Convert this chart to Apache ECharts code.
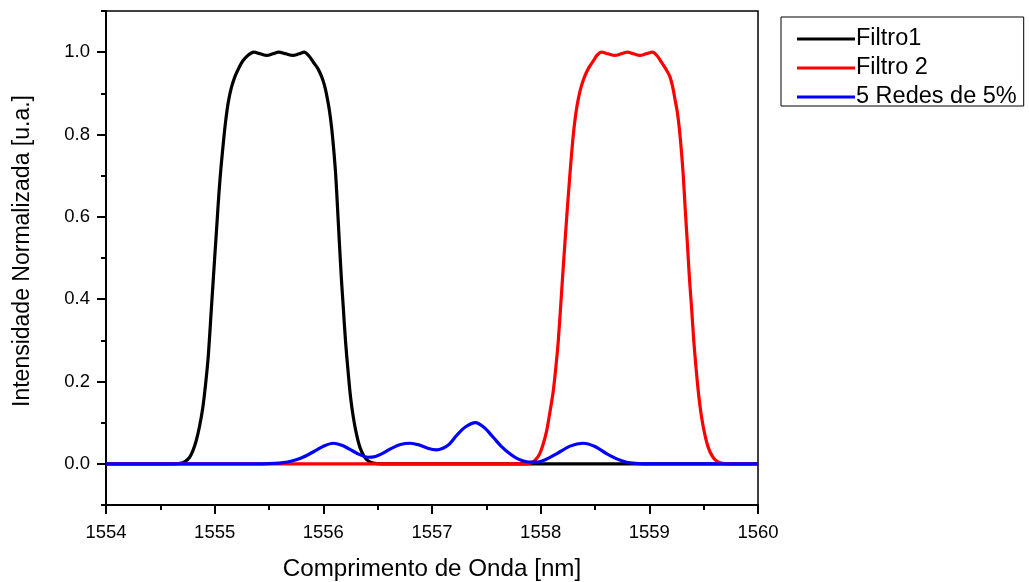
<!DOCTYPE html>
<html>
<head>
<meta charset="utf-8">
<script src="https://cdn.jsdelivr.net/npm/echarts@6/dist/echarts.min.js"></script>
<style>
  html, body { margin: 0; padding: 0; background: #fff; }
  #chart { width: 1029px; height: 582px; }
</style>
</head>
<body>
<div id="chart"></div>
<script>
// Wavelength [nm] / normalised intensity pairs for each trace
const filtro1 = [
  [1554.0, 0], [1554.6, 0], [1554.68, 0.001], [1554.73, 0.006], [1554.77, 0.016],
  [1554.80, 0.032], [1554.83, 0.056], [1554.86, 0.09], [1554.89, 0.135], [1554.915, 0.19],
  [1554.94, 0.258], [1554.97, 0.378], [1555.0, 0.5], [1555.02, 0.58], [1555.04, 0.66],
  [1555.06, 0.725], [1555.08, 0.78], [1555.10, 0.83], [1555.125, 0.878], [1555.155, 0.915],
  [1555.19, 0.943], [1555.225, 0.963], [1555.26, 0.979], [1555.31, 0.993], [1555.36, 1.0],
  [1555.42, 0.996], [1555.48, 0.992], [1555.535, 0.996], [1555.59, 1.0], [1555.655, 0.996],
  [1555.72, 0.992], [1555.775, 0.996], [1555.825, 1.0], [1555.87, 0.99], [1555.91, 0.975],
  [1555.95, 0.96], [1555.985, 0.94], [1556.01, 0.92], [1556.03, 0.897], [1556.055, 0.86],
  [1556.077, 0.815], [1556.095, 0.765], [1556.114, 0.701], [1556.13, 0.625], [1556.147, 0.54],
  [1556.165, 0.455], [1556.184, 0.378], [1556.205, 0.295], [1556.23, 0.218], [1556.25, 0.163],
  [1556.276, 0.113], [1556.305, 0.072], [1556.337, 0.04], [1556.375, 0.018], [1556.414, 0.007],
  [1556.46, 0.002], [1556.52, 0], [1560.0, 0]
];
const filtro2 = [
  [1554.0, 0], [1557.85, 0], [1557.91, 0.002], [1557.95, 0.009], [1557.99, 0.024],
  [1558.02, 0.045], [1558.055, 0.08], [1558.085, 0.125], [1558.116, 0.177], [1558.14, 0.235],
  [1558.162, 0.298], [1558.193, 0.419], [1558.224, 0.54], [1558.244, 0.615], [1558.264, 0.685],
  [1558.282, 0.745], [1558.3, 0.798], [1558.322, 0.848], [1558.346, 0.886], [1558.375, 0.918],
  [1558.408, 0.943], [1558.445, 0.963], [1558.485, 0.979], [1558.52, 0.993], [1558.561, 1.0],
  [1558.62, 0.996], [1558.684, 0.992], [1558.74, 0.996], [1558.797, 1.0], [1558.855, 0.996],
  [1558.914, 0.992], [1558.97, 0.996], [1559.031, 1.0], [1559.075, 0.99], [1559.113, 0.975],
  [1559.15, 0.96], [1559.19, 0.94], [1559.215, 0.915], [1559.236, 0.886], [1559.257, 0.855],
  [1559.276, 0.815], [1559.295, 0.76], [1559.312, 0.701], [1559.33, 0.62], [1559.349, 0.54],
  [1559.368, 0.455], [1559.389, 0.378], [1559.41, 0.295], [1559.435, 0.218], [1559.456, 0.163],
  [1559.481, 0.113], [1559.51, 0.072], [1559.542, 0.04], [1559.58, 0.018], [1559.619, 0.007],
  [1559.66, 0.002], [1559.72, 0], [1560.0, 0]
];
const redes = [
  [1554.0, 0], [1555.45, 0], [1555.55, 0.001], [1555.63, 0.003], [1555.71, 0.007],
  [1555.785, 0.013], [1555.86, 0.022], [1555.94, 0.034], [1556.01, 0.044], [1556.09, 0.05],
  [1556.17, 0.045], [1556.245, 0.035], [1556.33, 0.023], [1556.41, 0.016], [1556.48, 0.018],
  [1556.55, 0.026], [1556.63, 0.038], [1556.71, 0.047], [1556.8, 0.05], [1556.88, 0.046],
  [1556.96, 0.038], [1557.04, 0.034], [1557.1, 0.038], [1557.16, 0.048], [1557.23, 0.07],
  [1557.31, 0.09], [1557.4, 0.1], [1557.48, 0.088], [1557.565, 0.064], [1557.64, 0.042],
  [1557.72, 0.024], [1557.79, 0.012], [1557.87, 0.005], [1557.96, 0.004], [1558.05, 0.011],
  [1558.15, 0.025], [1558.27, 0.043], [1558.39, 0.05], [1558.5, 0.042], [1558.61, 0.024],
  [1558.7, 0.012], [1558.79, 0.004], [1558.87, 0.001], [1558.95, 0], [1560.0, 0]
];

const seriesNames = ['Filtro1', 'Filtro 2', '5 Redes de 5%'];
const seriesColors = ['#000000', '#ff0000', '#0000ff'];

const yMajorTicks = [0, 0.2, 0.4, 0.6, 0.8, 1.0];
const yMinorTicks = [-0.1, 0.1, 0.3, 0.5, 0.7, 0.9, 1.1];

const FONT = '"Liberation Sans", Arial, sans-serif';

const chart = echarts.init(document.getElementById('chart'), null, { renderer: 'canvas' });

const lineSeries = (name, data, color) => ({
  name, type: 'line', data, xAxisIndex: 0, yAxisIndex: 0,
  smooth: 0.3, symbol: 'none', showSymbol: false,
  lineStyle: { color, width: 3.2 }, itemStyle: { color },
  emphasis: { disabled: true }, z: 3
});

chart.setOption({
  animation: false,
  backgroundColor: '#fff',
  textStyle: { fontFamily: FONT },
  grid: {
    left: 106, right: 271, top: 11, bottom: 77, outerBoundsMode: 'none', containLabel: false,
    show: true, borderColor: '#000', borderWidth: 1.5, backgroundColor: 'transparent'
  },
  legend: {
    orient: 'vertical', left: 781, top: 17,
    padding: [10, 7, -3, 16], itemGap: 5,
    itemWidth: 58, itemHeight: 3, icon: 'rect',
    borderColor: '#000', borderWidth: 1,
    textStyle: { fontFamily: FONT, fontSize: 23.5, color: '#000', padding: [0, 0, 0, -4] },
    data: seriesNames.map((name, i) => ({ name, itemStyle: { color: seriesColors[i] } }))
  },
  xAxis: [{
    type: 'value', min: 1554, max: 1560, interval: 1,
    name: 'Comprimento de Onda [nm]', nameLocation: 'middle', nameGap: 52,
    nameTextStyle: { fontFamily: FONT, fontSize: 24.2, color: '#000' },
    axisLine: { show: true, onZero: false, lineStyle: { color: '#000', width: 2 } },
    axisTick: { show: true, length: 9, lineStyle: { color: '#000', width: 2 } },
    minorTick: { show: true, splitNumber: 2, length: 5, lineStyle: { color: '#000', width: 2 } },
    axisLabel: { fontFamily: FONT, fontSize: 18.5, color: '#000', margin: 18, formatter: v => String(v) },
    splitLine: { show: false }
  }],
  yAxis: [{
    type: 'value', min: -0.1, max: 1.1, interval: 0.1,
    name: 'Intensidade Normalizada [u.a.]', nameLocation: 'middle', nameGap: 72,
    nameTextStyle: { fontFamily: FONT, fontSize: 23, color: '#000', padding: [0, 0, 0, 14] },
    axisLine: { show: true, onZero: false, lineStyle: { color: '#000', width: 2 } },
    axisTick: { show: true, length: 9, customValues: yMajorTicks, lineStyle: { color: '#000', width: 2 } },
    axisLabel: { fontFamily: FONT, fontSize: 18.5, color: '#000', margin: 16, customValues: yMajorTicks,
      formatter: v => v.toFixed(1) },
    splitLine: { show: false }
  }, {
    type: 'value', min: -0.1, max: 1.1, interval: 0.1, position: 'left',
    axisLine: { show: false },
    axisTick: { show: true, length: 5, customValues: yMinorTicks, lineStyle: { color: '#000', width: 2 } },
    axisLabel: { show: false },
    splitLine: { show: false }
  }],
  series: [
    lineSeries(seriesNames[0], filtro1, seriesColors[0]),
    lineSeries(seriesNames[1], filtro2, seriesColors[1]),
    lineSeries(seriesNames[2], redes, seriesColors[2])
  ]
});
</script>
</body>
</html>
